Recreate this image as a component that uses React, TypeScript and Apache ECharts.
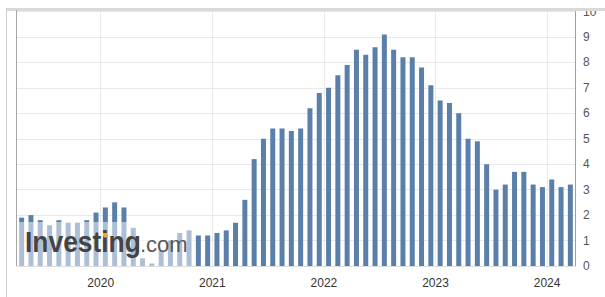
import { useEffect, useRef } from "react";
import * as echarts from "echarts";

// US CPI YoY (%), bars placed at release month; first bar = Mar 2019 data
const firstYear = 2019;
const firstMonth = 3;
const values = [
  1.9, 2.0, 1.8, 1.6, 1.8, 1.7, 1.7, 1.8, 2.1, 2.3,
  2.5, 2.3, 1.5, 0.3, 0.1, 0.6, 1.0, 1.3, 1.4, 1.2, 1.2, 1.3,
  1.4, 1.7, 2.6, 4.2, 5.0, 5.4, 5.4, 5.3, 5.4, 6.2, 6.8, 7.0,
  7.5, 7.9, 8.5, 8.3, 8.6, 9.1, 8.5, 8.2, 8.2, 7.8, 7.1, 6.5,
  6.4, 6.0, 5.0, 4.9, 4.0, 3.0, 3.2, 3.7, 3.7, 3.2, 3.1, 3.4,
  3.1, 3.2,
];
const yearLabels = ["2020", "2021", "2022", "2023", "2024"];
const yearBoundaryIndex = [9, 21, 33, 45, 57];
const yTicks = { min: 0, max: 10, interval: 1 };

const categories = values.map((_, i) => {
  const m = firstMonth - 1 + i;
  return `${firstYear + Math.floor(m / 12)}-${String((m % 12) + 1).padStart(2, "0")}`;
});
const boundaries = Array.from({ length: values.length + 1 }, (_, i) => {
  const k = yearBoundaryIndex.indexOf(i);
  return k >= 0 ? yearLabels[k] : "";
});

export default function App() {
  const ref = useRef<HTMLDivElement>(null);
  useEffect(() => {
    if (!ref.current) return;
    const chart = echarts.init(ref.current, null, { renderer: "svg" });
    const font = "'Liberation Sans', Arial, sans-serif";
    chart.setOption({
      animation: false,
      grid: { left: 17, right: 30, top: 11.5, bottom: 31, containLabel: false },
      xAxis: [
        { type: "category", data: categories, show: false, boundaryGap: true, gridIndex: 0 },
        {
          type: "category",
          data: boundaries,
          boundaryGap: false,
          position: "bottom",
          gridIndex: 0,
          axisLine: { show: true, lineStyle: { color: "#dcdcdc" } },
          axisTick: { show: false },
          axisLabel: {
            interval: (_i: number, v: string) => v !== "",
            color: "#333",
            fontSize: 12,
            fontFamily: font,
            margin: 11,
          },
          splitLine: {
            show: true,
            interval: (_i: number, v: string) => v !== "",
            lineStyle: { color: "#e9e9e9" },
          },
        },
      ],
      yAxis: {
        type: "value",
        position: "right",
        min: yTicks.min,
        max: yTicks.max,
        interval: yTicks.interval,
        axisLine: { show: true, lineStyle: { color: "#a0a0a0" } },
        axisTick: { show: false },
        axisLabel: { color: "#555", fontSize: 12, fontFamily: font, margin: 8 },
        splitLine: { show: true, lineStyle: { color: "#e9e9e9" } },
      },
      series: [
        {
          type: "bar",
          data: values,
          xAxisIndex: 0,
          barWidth: 5,
          itemStyle: { color: "#5a7fa9" },
        },
      ],
      graphic: [
        { type: "rect", z: 100, shape: { x: 0, y: 0, width: 605, height: 8.5 }, style: { fill: "#fff" } },
        { type: "rect", z: 101, shape: { x: 6, y: 8, width: 599, height: 3 }, style: { fill: "#d9d9d9" } },
        { type: "line", z: 101, shape: { x1: 6.5, y1: 8, x2: 6.5, y2: 297 }, style: { stroke: "#cfcfcf", lineWidth: 1 } },
        { type: "line", z: 101, shape: { x1: 16.5, y1: 10, x2: 16.5, y2: 266 }, style: { stroke: "#a8a8a8", lineWidth: 1 } },
        { type: "rect", z: 100, shape: { x: 17, y: 222, width: 178, height: 44 }, style: { fill: "rgba(255,255,255,0.5)" } },
        {
          type: "text",
          z: 102,
          x: 25,
          y: 256,
          scaleX: 0.88,
          style: { text: "Investing", x: 0, y: 0, font: `bold 30px ${font}`, fill: "#444", verticalAlign: "bottom" },
        },
        {
          type: "text",
          z: 102,
          x: 140,
          y: 255,
          style: { text: ".com", x: 0, y: 0, font: `22px ${font}`, fill: "#585858", verticalAlign: "bottom" },
        },
        { type: "rect", z: 103, shape: { x: 103.5, y: 233, width: 4.5, height: 4.5 }, style: { fill: "#f3a83b" } },
      ],
    });
    return () => chart.dispose();
  }, []);
  return (
    <div
      ref={ref}
      style={{ position: "fixed", left: 0, top: 0, width: 605, height: 297, background: "#fff" }}
    />
  );
}
